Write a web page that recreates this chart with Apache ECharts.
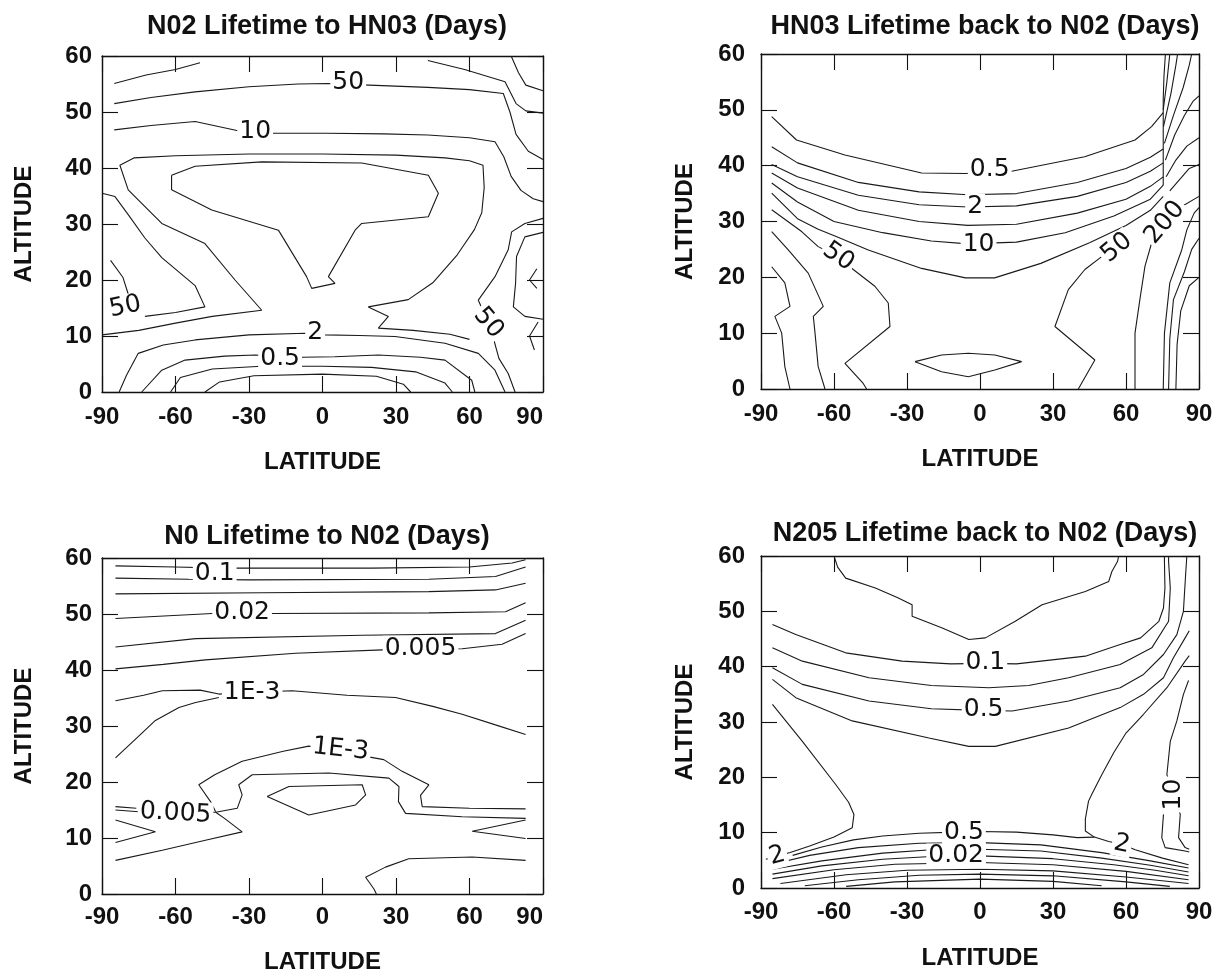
<!DOCTYPE html>
<html>
<head>
<meta charset="UTF-8">
<title>Lifetimes</title>
<script src="https://cdn.jsdelivr.net/npm/echarts@6/dist/echarts.min.js"></script>
<style>
body{margin:0;background:#fff}
#chart{width:1220px;height:976px}
</style>
</head>
<body>
<div id="chart"></div>
<script>
// axes
var latTicks = [-90, -60, -30, 0, 30, 60, 90];
var altTicks = [0, 10, 20, 30, 40, 50, 60];
var panelTitles = ['N02 Lifetime to HN03 (Days)', 'HN03 Lifetime back to N02 (Days)',
                   'N0 Lifetime to N02 (Days)', 'N205 Lifetime back to N02 (Days)'];

// panel 1: N02 -> HN03, contour polylines [lat, alt]
var no2Lines = [
  [[-85,55.1],[-72,56.6],[-60,57.6],[-50,58.8]],
  [[-85,51.5],[-70,52.6],[-52,53.6],[-30,54.5],[-10,55.0],[2,55.1],[19,54.8],[43,54.4],[60,54.0],[73.8,53.3],[76.5,50],[79,46],[84,43],[90,41.5]],
  [[43,59.2],[58,57.6],[74.5,55.4],[79,51.5],[83,50.2],[90,49.8]],
  [[77,60],[80,57],[83,54.8],[90,53.8]],
  [[-85,46.8],[-70,47.6],[-52,48.3],[-34,46.6],[-20,46.2],[2,46.2],[25,46.1],[43,45.9],[60,45.4],[70.4,44.7],[74,42],[77,38.5],[81,36],[86,34.5],[90,34]],
  [[-90,10.2],[-75,11],[-60,12.3],[-45,13.5],[-24.8,14.6],[-35.7,20],[-48,26.5],[-65.6,30.1],[-79.3,36.1],[-82.7,40.5],[-77,41.8],[-60,42.2],[-30,42.5],[0,42.5],[30,42.3],[50,41.8],[60,41.3],[65.5,40.5],[66,36.5],[65,32],[62,29],[55,24.5],[45,19.5],[35,16.5],[18.7,15.2],[26.9,13.5],[22.8,11.4],[37,11],[52,10.3],[60,9.4]],
  [[-61.6,38.7],[-52,40.3],[-24.8,41.1],[16,40.9],[43.2,38.7],[47.3,35.5],[43.2,31.3],[16,30.1],[13.3,28.9],[2.4,20.6],[5.1,19.4],[-4.4,18.5],[-6.5,20.6],[-18,28.9],[-45.2,32.5],[-61.6,36.1],[-61.6,38.7]],
  [[-90,35.5],[-84.7,34.9],[-79,31.5],[-72.5,27.5],[-65.6,24],[-52,19],[-48,15.2],[-60,14.2],[-72.5,13.5]],
  [[-86.5,23.5],[-81.5,20.5],[-79.3,17.5],[-79,15.9],[-74,15]],
  [[90,31],[82.6,30.1],[77.2,28.6],[75.8,25.4],[70.4,20.6],[63.6,16.4],[65.5,14.5],[67.7,12.3],[69.5,10],[72,6],[75.8,3.3],[78.6,0]],
  [[90,28.5],[82.6,27.7],[79.2,24.2],[78.8,19.4],[77.9,15.2],[82.6,13.5],[90,13]],
  [[87.5,22],[84.5,20],[87.5,18.5]],
  [[88,12.5],[84.5,10],[86.5,7.5]],
  [[-83,0],[-80,3],[-75.2,6.9],[-65,8.4],[-52,9.3],[-30,10.2],[-7,10.5],[1,10.2],[15,10.1],[29.6,9.9],[50,8.7],[63.6,6.9],[70.4,3.9],[74.5,0]],
  [[-73.8,0],[-65.6,3.9],[-56.1,5.7],[-40,6.4],[-27.5,6.6],[-8.5,6.2],[5,6.3],[22.8,6.6],[40,6.2],[50,5.7],[60.9,2.1],[62.2,0]],
  [[-62,0],[-58,2.6],[-45,4.1],[-25,4.6],[0,4.6],[20,4.4],[38,3.6],[50,1.6],[53,0]],
  [[-48,0],[-42,1.8],[-28,2.9],[0,3.2],[22,2.8],[33,1.4],[36,0]]
];
var no2Labels = [[10.5,55.3,'50'],[-27.5,46.5,'10'],[-80.5,15.2,'50'],[67.7,12.3,'50'],[-3,10.7,'2'],[-17.3,6.0,'0.5']];
var no2LabelAngles = [0, 0, 12, -50, 0, 0];

// panel 2: HN03 -> N02
var hno3Lines = [
  [[-85.6,48.8],[-75.4,44.6],[-55.5,41.9],[-24,38.7],[-6,38.6],[13,39],[43,41.6],[63.7,44.6],[70.5,47],[75.3,49.5]],
  [[-85.6,43.4],[-75,40.5],[-50,37],[-25,35.3],[-5,34.8],[15,35],[40,37],[60,39.5],[70,41.5],[75.3,43]],
  [[-85.6,40.2],[-75,38],[-50,34.7],[-25,33],[-5,32.6],[15,32.8],[40,34.5],[60,37],[70,39],[75.3,40.5]],
  [[-85.6,38.7],[-75,36],[-50,32],[-25,30],[-5,29.3],[15,29.5],[40,31.5],[60,34],[70,36.3],[75.3,38]],
  [[-85.6,36.9],[-75,33.5],[-60,30],[-40,28],[-20,26.5],[-5,26],[15,26.3],[35,28],[55,31],[70,34],[75.3,36.5]],
  [[-85.6,35.1],[-75,30.5],[-66.5,28.6],[-59.6,27.4],[-45.9,24.9],[-24,21.6],[-6,19.9],[6,19.9],[25,22.5],[45,26.2],[60,29.3],[70,32],[75.3,34.5]],
  [[-85.6,32.1],[-73.3,28.2],[-66.5,25.5],[-58.2,23.7],[-52.1,21.4],[-43.2,18.4],[-37.7,15.4],[-37,11.2],[-55.5,4.6],[-48,1],[-46.6,0]],
  [[-85.6,28.2],[-78.8,24.9],[-70.6,20.75],[-64.4,14.8],[-68.5,13],[-67.8,10],[-66.5,4],[-63.7,0]],
  [[-85.6,21.9],[-80.2,19],[-78.1,14.8],[-84.3,13],[-81.5,10],[-80.2,4],[-78.1,0]],
  [[-26.7,4.9],[-15.8,6.1],[-4.8,6.4],[6.1,6.1],[17.1,4.9],[6.1,3.4],[-4.8,2.2],[-15.8,3.1],[-26.7,4.9]],
  [[40.4,0],[47.2,5.2],[30.8,11.2],[36.3,17.8],[43.1,21.4],[50,23.7],[56.2,25.3]],
  [[63.7,0],[63.7,10],[65.7,16],[67.8,22],[70.5,26.1],[75.3,29.4],[82.9,32.7],[90,34.5]],
  [[75.3,36.5],[75.3,45],[75.3,52],[75.6,56],[76.2,60]],
  [[75.3,50],[76.8,55],[78,60]],
  [[75.4,47],[78.5,53],[80.5,58],[81.2,60]],
  [[75.8,44],[79.5,49],[83.5,54],[86,58],[87,60]],
  [[76.2,41],[80,45.5],[84,49],[87.5,51.5],[90,52.5]],
  [[76.5,38],[80.5,41],[85,43.5],[90,45]],
  [[78,35.5],[82,37.5],[86,39.5],[90,40.2]],
  [[75.3,0],[75.8,10],[78,19],[82.9,24.9],[85,28.5],[88,31.5],[90,32.5]],
  [[77.5,0],[78,9],[79.5,16],[84,21],[87,25],[90,27]],
  [[80.5,0],[81,8],[82.5,14],[86,18.5],[90,20]]
];
var hno3Labels = [[4,39.3,'0.5'],[-2,32.7,'2'],[-0.6,25.8,'10'],[-58.2,23.7,'50'],[56.2,25.3,'50'],[76,29.8,'200']];
var hno3LabelAngles = [0, 0, 0, -35, 40, 50];

// panel 3: N0 -> N02
var noLines = [
  [[-84.5,58.6],[-60,58.4],[-40,58.2],[20,58.2],[60,58.4],[77.4,59.1],[82.9,59.7]],
  [[-84.5,56.4],[-54.6,56.2],[-30,56.1],[43.4,56.2],[70.6,56.7],[82.9,58.4]],
  [[-84.5,53.6],[-24.6,53.8],[43.4,54],[70.6,54.3],[82.9,55.5]],
  [[-84.5,49.2],[-45,50.1],[-20.5,50.1],[43.4,50.2],[74.7,50.4],[82.9,52]],
  [[-84.5,44.1],[-51.8,45.6],[16.2,46.2],[70.6,46.5],[82.9,48.9]],
  [[-84.5,40.2],[-65,41],[-47.8,41.8],[-11,43],[24.4,43.6],[57,43.8],[73.3,44.6],[82.9,46.5]],
  [[-84.5,34.5],[-73,35.5],[-65.4,36.3],[-50,36.4],[-42.3,35.7],[-30,36],[-12.4,36.3],[10,35.5],[29.8,35.1],[45,33.5],[57,32.1],[70.6,30.2],[82.9,28.5]],
  [[-84.5,24.3],[-75,28.2],[-68.2,31],[-58.6,33.3],[-51.8,34.2],[-42.3,35.1]],
  [[-43.6,14.7],[-45.7,16.5],[-50.5,19.5],[-44,21.3],[-32.8,23.7],[-16,25.5],[-5.6,26.4],[25,24],[32.5,21.9],[43.4,19.5],[40,17.6],[40.7,15.6],[60,15.3],[82.9,15.2]],
  [[-43.6,14.6],[-34.8,15.3],[-32.8,17.7],[-34.2,19.5],[-28.7,21.3],[2.6,21.6],[27.1,20.7],[31.2,19.2],[31,16.5],[33.9,14.4],[57,13.8],[82.9,13.5]],
  [[-84.5,15.0],[-75,14.7],[-60,14.4],[-43.6,14.6]],
  [[-84.5,15.6],[-76,15.3]],
  [[-22.6,17.4],[-13.7,19.2],[16.2,19.5],[17.6,17.7],[13.5,15.9],[-5.6,14.1],[-22.6,17.4]],
  [[-84.5,13.2],[-68.2,11.1],[-84.5,9.2]],
  [[-84.5,6],[-65.4,7.8],[-47.8,9.6],[-32.8,11.1],[-40,13.5],[-43.6,14.6]],
  [[82.9,13.2],[61.1,11.2],[82.9,9.9]],
  [[82.9,6],[61.1,6.6],[35.2,6.3],[25.7,4.8],[17.6,3],[21,0.9],[22,0]]
];
var noLabels = [[-44,57.2,'0.1'],[-32.8,50.2,'0.02'],[40,43.9,'0.005'],[-28.7,36,'1E-3'],[7.4,25.8,'1E-3'],[-60,14.4,'0.005']];
var noLabelAngles = [0, 0, 0, 0, -6, -3];

// panel 4: N205 -> N02
var n2o5Lines = [
  [[-60,60],[-58.5,58],[-55.2,56],[-43,54.2],[-34,52.5],[-27.9,51.2],[-27.9,49.1],[-15.5,47],[-4.6,44.9],[2.2,45.2],[14.5,48.2],[25.5,51.2],[43.3,53.6],[52.9,55.4],[54.2,57.2],[56.5,59],[57,60]],
  [[-85.3,47.6],[-75.7,45.8],[-55.2,42.5],[-32,41],[-12,40.5],[2.2,40.6],[15,40.5],[43.3,41.9],[57.6,44],[66,45.2],[73.5,48.2],[75.4,50.6],[76,54.2],[75.8,59],[75.8,60]],
  [[-85.3,43.4],[-73,41],[-45.6,38],[-20,36.6],[3.6,36.2],[20,36.6],[36.4,38],[57.6,40.4],[70.6,43.4],[77.5,48.2],[78.2,54.2],[77.5,59],[77.5,60]],
  [[-85.3,39.8],[-73,36.8],[-45.6,33.8],[-20,32.4],[0,32.1],[13.2,32],[36.4,33.8],[57.6,36.2],[67.2,38.6],[75.4,42.2],[80.9,45.8],[83.6,50],[84,53],[84.5,56.6],[85,60]],
  [[-85.3,37.7],[-75.7,34.4],[-52.5,30.2],[-21,27.1],[-4.6,25.6],[6.3,25.6],[36.4,28.9],[57.6,32.6],[67.2,35],[75.4,38],[79.5,41.6],[84.3,45.2],[86,46.5]],
  [[86,42],[84.3,41],[76.8,36.2],[67.2,31.4],[60,28],[55,24.5],[50.1,20.5],[46,17],[44.6,15.7],[43.3,12.5],[43.3,10.3],[47,9.2],[52.9,8.4],[58.3,7.9],[63.8,6.9],[75,5.4],[85.7,4.2]],
  [[85.7,37.5],[83.6,35],[80.9,30.2],[78.2,26.5],[76.8,20.5],[79.5,16.9],[82.3,13.3],[81.6,9.1],[84.3,7.3],[86,7]],
  [[75.4,13.3],[74.7,9.1],[76.1,7.3],[84.3,6.7],[86,6.5]],
  [[-85.3,33.2],[-73,26.5],[-59.3,18.7],[-54,15.5],[-51.8,13.3],[-52.5,10.9],[-60,9.2],[-70,7.6],[-78,6.4],[-83.3,5.8],[-88,5.2]],
  [[-77,5.9],[-65,7.4],[-52,8.7],[-40,9.4],[-25,9.9],[-10,10.1],[0,10.2],[15,10.1],[30,9.6],[40,9.1],[47,9.2]],
  [[-85.3,4.3],[-70,5.9],[-50,7.3],[-25,8.1],[0,8.2],[25,7.8],[50,6.4],[70,4.9],[85.7,3.6]],
  [[-85.3,3.4],[-65,4.9],[-40,6.3],[-20,6.9],[0,7.0],[25,6.7],[50,5.4],[70,4.1],[85.7,2.9]],
  [[-85.3,2.5],[-65,4.0],[-40,5.2],[-20,5.7],[0,5.8],[30,5.3],[55,4.2],[72,3.2],[85.7,2.2]],
  [[-85.3,1.7],[-60,3.3],[-35,4.3],[0,4.6],[30,4.2],[60,3.0],[85.7,1.5]],
  [[-82,0.8],[-55,2.4],[-30,3.2],[0,3.4],[30,3.1],[60,2.0],[85.7,0.8]],
  [[-72,0.4],[-50,1.5],[-25,2.3],[0,2.5],[30,2.2],[60,1.1],[78,0.3]],
  [[-55,0.3],[-35,1.1],[0,1.6],[30,1.2],[50,0.4]]
];
var n2o5Labels = [[2.2,40.7,'0.1'],[1.5,32.2,'0.5'],[-6.6,10.1,'0.5'],[-9.8,5.8,'0.02'],[-83.3,5.8,'2'],[58.3,7.9,'2'],[79.5,16.9,'10']];
var n2o5LabelAngles = [0, 0, 0, 0, 15, -12, 90];

// layout of the four frames
var frames = [
  {left: 102, top: 56, width: 441, height: 336, titleX: 322, titleY: 8, xGap: 58, yGap: 66, xMargin: 13, yMargin: 10, alignMax: 'right'},
  {left: 761, top: 54, width: 438, height: 335, titleX: 980, titleY: 8, xGap: 58, yGap: 64, xMargin: 13, yMargin: 16, alignMax: null},
  {left: 102, top: 558, width: 441, height: 336, titleX: 322, titleY: 518, xGap: 56, yGap: 66, xMargin: 11, yMargin: 10, alignMax: 'right'},
  {left: 761, top: 556, width: 438, height: 332, titleX: 980, titleY: 515, xGap: 58, yGap: 64, xMargin: 12, yMargin: 16, alignMax: null}
];
var panelLines = [no2Lines, hno3Lines, noLines, n2o5Lines];
var panelLabels = [no2Labels, hno3Labels, noLabels, n2o5Labels];
var panelAngles = [no2LabelAngles, hno3LabelAngles, noLabelAngles, n2o5LabelAngles];

var ink = '#111';
var boldFont = {color: ink, fontFamily: 'Liberation Sans', fontWeight: 'bold', fontSize: 24};

var grids = [], xAxes = [], yAxes = [], titles = [], series = [];
frames.forEach(function (f, i) {
  grids.push({left: f.left, top: f.top, width: f.width, height: f.height, containLabel: false});
  titles.push({text: panelTitles[i], left: f.titleX, top: f.titleY, textAlign: 'center',
    textStyle: {color: ink, fontFamily: 'Liberation Sans', fontWeight: 'bold', fontSize: 27}});
  ['bottom', 'top'].forEach(function (pos) {
    var main = pos === 'bottom';
    xAxes.push({
      type: 'value', gridIndex: i, position: pos,
      min: latTicks[0], max: latTicks[latTicks.length - 1], interval: latTicks[1] - latTicks[0],
      axisLine: {show: true, onZero: false, lineStyle: {color: ink, width: 1.4}},
      axisTick: {show: true, inside: true, length: 16, lineStyle: {color: ink, width: 1.1}},
      axisLabel: Object.assign({show: main, margin: f.xMargin, alignMaxLabel: f.alignMax}, boldFont),
      splitLine: {show: false},
      name: main ? 'LATITUDE' : '', nameLocation: 'middle', nameGap: f.xGap,
      nameTextStyle: boldFont
    });
  });
  ['left', 'right'].forEach(function (pos) {
    var main = pos === 'left';
    yAxes.push({
      type: 'value', gridIndex: i, position: pos,
      min: altTicks[0], max: altTicks[altTicks.length - 1], interval: altTicks[1] - altTicks[0],
      axisLine: {show: true, onZero: false, lineStyle: {color: ink, width: 1.4}},
      axisTick: {show: true, inside: true, length: 16, lineStyle: {color: ink, width: 1.1}},
      axisLabel: Object.assign({show: main, margin: f.yMargin}, boldFont),
      splitLine: {show: false},
      name: main ? 'ALTITUDE' : '', nameLocation: 'middle', nameGap: f.yGap, nameRotate: 90,
      nameTextStyle: boldFont
    });
  });
  panelLines[i].forEach(function (pts) {
    series.push({
      type: 'line', xAxisIndex: 2 * i, yAxisIndex: 2 * i, data: pts,
      symbol: 'none', silent: true, z: 2,
      lineStyle: {color: '#1a1a1a', width: 1.1}
    });
  });
  series.push({
    type: 'scatter', xAxisIndex: 2 * i, yAxisIndex: 2 * i, symbolSize: 0, silent: true, z: 5,
    itemStyle: {opacity: 1},
    data: panelLabels[i].map(function (l, k) {
      return {value: [l[0], l[1]], name: l[2], label: {rotate: panelAngles[i][k]}};
    }),
    label: {show: true, position: 'inside', formatter: '{b}', color: ink, opacity: 1,
      fontFamily: 'DejaVu Sans', fontSize: 25, backgroundColor: '#fff', padding: [0, 2]}
  });
});

var chart = echarts.init(document.getElementById('chart'));
chart.setOption({
  animation: false,
  backgroundColor: '#fff',
  title: titles,
  grid: grids,
  xAxis: xAxes,
  yAxis: yAxes,
  series: series
});
</script>
</body>
</html>
